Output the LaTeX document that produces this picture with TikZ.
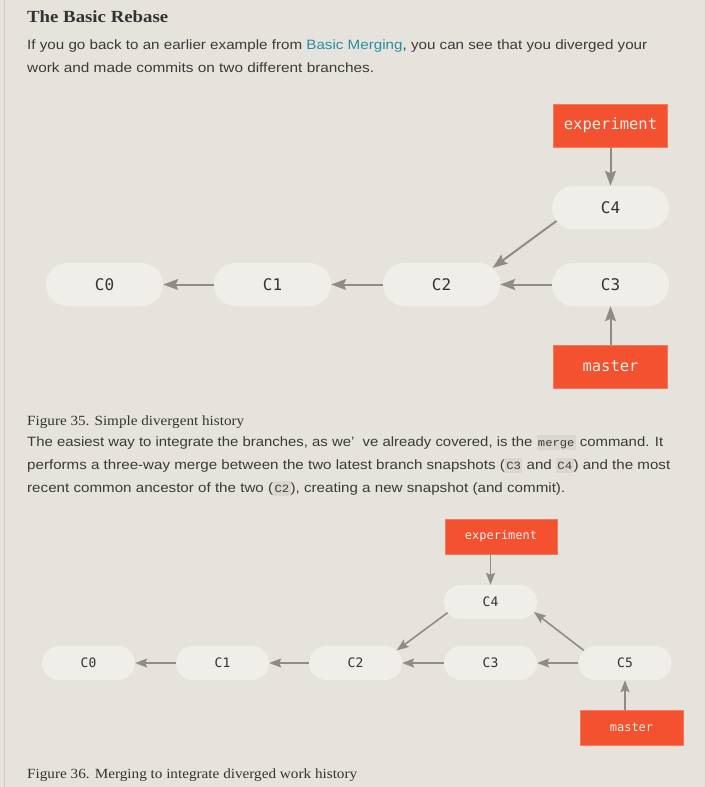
\documentclass[tikz,border=0pt]{standalone}
\usepackage{fontspec}
\usepackage{graphicx}
\setmainfont{Liberation Serif}
\setsansfont{Liberation Sans}
\setmonofont{DejaVu Sans Mono}
\newfontfamily\codefont{Liberation Mono}
\usetikzlibrary{arrows.meta,shapes.misc}
\definecolor{bg}{HTML}{E6E3DC}
\definecolor{nodefill}{HTML}{EFEEE8}
\definecolor{nodetext}{HTML}{333333}
\definecolor{gitred}{HTML}{F35130}
\definecolor{gitredline}{HTML}{F47A5E}
\definecolor{labeltext}{HTML}{F2EFEA}
\definecolor{arrowgray}{HTML}{8F8B85}
\definecolor{bodytext}{HTML}{3A3A3A}
\definecolor{linkcol}{HTML}{2A8DA5}
\definecolor{codebg}{HTML}{DAD7D0}
\definecolor{edgeline}{HTML}{CFCBC3}
\newcommand\fitw[2]{\resizebox{#1pt}{\height}{#2}}
\newcommand\codebit[1]{{\setlength\fboxsep{1.2pt}\colorbox{codebg}{\rule[-2.5pt]{0pt}{12pt}\codefont\fontsize{11}{12}\selectfont #1}}}
\begin{document}
\begin{tikzpicture}[x=1pt,y=-1pt,
  commitA/.style={rounded rectangle, fill=nodefill, text=nodetext, minimum width=117pt, minimum height=43pt, inner sep=0pt, font=\ttfamily\fontsize{16}{16}\selectfont},
  commitB/.style={rounded rectangle, fill=nodefill, text=nodetext, minimum width=93pt, minimum height=34pt, inner sep=0pt, font=\ttfamily\fontsize{13}{13}\selectfont},
  branchA/.style={rectangle, fill=gitred, draw=gitredline, line width=0.6pt, text=labeltext, minimum width=114pt, minimum height=43pt, inner sep=0pt, font=\ttfamily\fontsize{15.5}{16}\selectfont},
  branchB/.style={rectangle, fill=gitred, draw=gitredline, line width=0.6pt, text=labeltext, minimum width=112pt, minimum height=35pt, inner sep=0pt, font=\ttfamily\fontsize{12}{13}\selectfont},
  arrA/.style={draw=arrowgray, line width=2pt, -{Stealth[length=15pt,width=11pt,inset=2.5pt]}},
  arrB/.style={draw=arrowgray, line width=1.6pt, -{Stealth[length=12pt,width=9pt,inset=2pt]}},
  heading/.style={anchor=base west, inner sep=0pt, text=nodetext, font=\rmfamily\bfseries\fontsize{17}{20}\selectfont},
  body/.style={anchor=base west, inner sep=0pt, text=bodytext, font=\sffamily\fontsize{13.5}{16}\selectfont},
  caption/.style={anchor=base west, inner sep=0pt, text=nodetext, font=\rmfamily\fontsize{14}{16}\selectfont},
  edge/.style={draw=edgeline, line width=1pt}]
\fill[bg] (0,0) rectangle (706,787);
\useasboundingbox (0,0) rectangle (706,787);
\draw[edge] (4.5,0) -- (4.5,787);
\draw[edge] (705.5,0) -- (705.5,787);

% texts
\node[heading] (title) at (27,23) {\fitw{141}{The Basic Rebase}};
\node[body] (p1a) at (27,49) {\fitw{620}{If you go back to an earlier example from \textcolor{linkcol}{Basic Merging}, you can see that you diverged your}};
\node[body] (p1b) at (27,72) {\fitw{347}{work and made commits on two different branches.}};
\node[caption] (cap1) at (27,425) {\fitw{217}{Figure 35. Simple divergent history}};
\node[body] (p2a) at (27,446) {\fitw{636}{The easiest way to integrate the branches, as we’\ \ ve already covered, is the \codebit{merge} command. It}};
\node[body] (p2b) at (27,469) {\fitw{643}{performs a three-way merge between the two latest branch snapshots (\codebit{C3} and \codebit{C4}) and the most}};
\node[body] (p2c) at (27,492) {\fitw{538}{recent common ancestor of the two (\codebit{C2}), creating a new snapshot (and commit).}};
\node[caption] (cap2) at (27,778) {\fitw{330}{Figure 36. Merging to integrate diverged work history}};

% diagram 1
\node[branchA] (expA) at (610.5,125.5) {experiment};
\node[commitA] (aC4) at (610.5,207.5) {C4};
\node[commitA] (aC0) at (104.5,284.5) {C0};
\node[commitA] (aC1) at (272.5,284.5) {C1};
\node[commitA] (aC2) at (441.5,284.5) {C2};
\node[commitA] (aC3) at (610.5,284.5) {C3};
\node[branchA] (masA) at (610.5,366.5) {master};
\draw[arrA] (expA.south) -- (aC4.north);
\draw[arrA] (aC4.194) -- (aC2.18);
\draw[arrA] (aC3.west) -- (aC2.east);
\draw[arrA] (aC2.west) -- (aC1.east);
\draw[arrA] (aC1.west) -- (aC0.east);
\draw[arrA] (masA.north) -- (aC3.south);

% diagram 2
\node[branchB] (expB) at (501,536.5) {experiment};
\node[commitB] (bC4) at (490.5,602) {C4};
\node[commitB] (bC0) at (88.5,663) {C0};
\node[commitB] (bC1) at (222.5,663) {C1};
\node[commitB] (bC2) at (355.5,663) {C2};
\node[commitB] (bC3) at (490.5,663) {C3};
\node[commitB] (bC5) at (625,663) {C5};
\node[branchB, minimum width=103pt] (masB) at (631.5,727.5) {master};
\draw[arrB] (expB.south -| bC4.north) -- (bC4.north);
\draw[arrB] (bC4.194) -- (bC2.17);
\draw[arrB] (bC5.163) -- (bC4.347);
\draw[arrB] (bC3.west) -- (bC2.east);
\draw[arrB] (bC5.west) -- (bC3.east);
\draw[arrB] (bC2.west) -- (bC1.east);
\draw[arrB] (bC1.west) -- (bC0.east);
\draw[arrB] (masB.north -| bC5.south) -- (bC5.south);
\end{tikzpicture}
\end{document}
